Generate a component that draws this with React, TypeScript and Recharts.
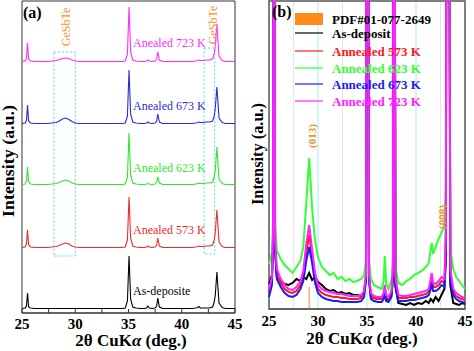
import React from 'react';
import { LineChart, Line, XAxis, YAxis, ReferenceArea, ReferenceLine, CartesianGrid } from 'recharts';

// 2θ sampling positions (deg.)
const twoTheta = [
  25, 25.3, 25.42, 25.52, 25.62, 25.8, 26.2, 26.6, 27, 27.4,
  27.8, 28.2, 28.5, 28.8, 29.1, 29.4, 29.7, 30, 30.4, 30.8,
  31.2, 31.6, 32, 32.4, 32.8, 33.2, 33.6, 34, 34.4, 34.7,
  34.9, 35.05, 35.2, 35.4, 35.7, 36.1, 36.5, 36.7, 36.82, 36.95,
  37.2, 37.5, 37.65, 37.75, 37.9, 38.2, 38.6, 39, 39.4, 39.8,
  40.2, 40.6, 41, 41.3, 41.5, 41.6, 41.75, 42, 42.3, 42.6,
  42.9, 43.05, 43.15, 43.3, 43.5, 43.8, 44.1, 44.4, 44.7, 45,
];

// Panel (a): relative intensities (a.u.) of each pattern
const aAsDeposit = [
  0.5, 1, 3, 16, 2, 1, 0.5, 0.5, 0.5, 0.5,
  0.5, 0.5, 0.5, 0.5, 0.5, 0.5, 0.5, 0.5, 0.5, 0.5,
  0.5, 0.5, 0.5, 0.5, 0.5, 0.5, 0.5, 0.5, 0.5, 1,
  8, 53, 10, 2, 1, 0.5, 0.5, 1, 3, 1,
  0.5, 1, 3, 11, 2, 0.5, 0.5, 0.5, 0.5, 0.5,
  0.5, 0.5, 0.5, 1, 1.5, 2.5, 1, 1, 1, 1,
  2, 7, 14, 37, 6, 1.5, 0.5, 0.5, 0.5, 0.5,
];
const a573 = [
  0.5, 1, 4, 18, 3, 1, 0.5, 0.5, 0.5, 0.5,
  1, 1.5, 2.5, 4, 5, 4, 2, 1, 0.5, 0.5,
  0.5, 0.5, 0.5, 0.5, 0.5, 0.5, 0.5, 0.5, 0.5, 1,
  8, 51, 10, 2, 1, 0.5, 0.5, 1, 2, 1,
  0.5, 1, 3, 10, 2, 0.5, 0.5, 0.5, 0.5, 0.5,
  0.5, 0.5, 0.5, 1, 1.5, 2, 1.5, 1.5, 2, 2,
  3, 8, 16, 38, 6, 1.5, 0.5, 0.5, 0.5, 0.5,
];
const a623 = [
  0.5, 1, 4, 18, 3, 1, 0.5, 0.5, 0.5, 0.5,
  1, 1.5, 2.5, 4, 5, 4, 2, 1, 0.5, 0.5,
  0.5, 0.5, 0.5, 0.5, 0.5, 0.5, 0.5, 0.5, 0.5, 1,
  8, 52, 10, 2, 1, 0.5, 0.5, 1, 1.5, 1,
  0.5, 1, 3, 8, 2, 0.5, 0.5, 0.5, 0.5, 0.5,
  0.5, 0.5, 0.5, 1, 1.5, 1.5, 1.5, 1.5, 2, 2,
  3, 8, 15, 38, 6, 1.5, 0.5, 0.5, 0.5, 0.5,
];
const a673 = [
  0.5, 1, 4, 19, 3, 1, 0.5, 0.5, 0.5, 0.5,
  1, 1.5, 3, 5, 6, 4.5, 2.5, 1, 0.5, 0.5,
  0.5, 0.5, 0.5, 0.5, 0.5, 0.5, 0.5, 0.5, 0.5, 1,
  8, 54, 10, 2, 1, 0.5, 0.5, 1, 2, 1,
  0.5, 1, 3, 10, 2, 0.5, 0.5, 0.5, 0.5, 0.5,
  0.5, 0.5, 0.5, 1, 1.5, 2, 1.5, 1.5, 2, 2,
  3, 8, 16, 37, 6, 1.5, 0.5, 0.5, 0.5, 0.5,
];
const a723 = [
  0.5, 1, 4, 19, 3, 1, 0.5, 0.5, 0.5, 0.5,
  1, 1.5, 2.5, 3.5, 4, 3.5, 2, 1, 0.5, 0.5,
  0.5, 0.5, 0.5, 0.5, 0.5, 0.5, 0.5, 0.5, 0.5, 1,
  8, 55, 10, 2, 1, 0.5, 0.5, 1, 2, 1,
  0.5, 1, 3, 10, 2, 0.5, 0.5, 0.5, 0.5, 0.5,
  0.5, 0.5, 0.5, 1, 1.5, 2, 1.5, 1.5, 2, 2,
  3, 8, 17, 38, 6, 1.5, 0.5, 0.5, 0.5, 0.5,
];
// vertical stacking offsets of panel (a) patterns (a.u.)
const aOffsets = [4, 65, 128, 189, 251];

// Panel (b): zoomed intensities (a.u.), large peaks run off scale
const bAsDeposit = [
  25, 34, 70, 900, 60, 32, 28, 25, 24, 26,
  30, 28, 32, 30, 36, 29, 32, 27, 24, 20,
  18, 19, 16, 17, 15, 16, 14, 14, 13, 16,
  30, 900, 30, 12, 11, 10, 11, 14, 20, 10,
  9, 14, 30, 900, 22, 6, 5, 4, 6, 4,
  6, 5, 8, 6, 10, 9, 7, 12, 8, 14,
  20, 50, 900, 900, 24, 6, 5, 4, 6, 5,
];
const b573 = [
  16, 28, 75, 900, 65, 34, 26, 20, 17, 16,
  18, 24, 33, 56, 74, 53, 31, 20, 16, 14,
  13, 12, 12, 11, 11, 10, 10, 10, 11, 17,
  34, 900, 34, 13, 11, 10, 10, 13, 20, 11,
  10, 17, 38, 900, 30, 11, 11, 11, 12, 12,
  13, 14, 15, 17, 25, 31, 22, 22, 24, 28,
  26, 70, 900, 900, 36, 17, 13, 11, 10, 9,
];
const b623 = [
  45, 56, 95, 900, 85, 58, 50, 44, 40, 36,
  42, 48, 62, 105, 151, 100, 68, 52, 42, 38,
  34, 36, 30, 32, 28, 30, 27, 28, 30, 34,
  50, 900, 50, 30, 24, 22, 20, 28, 53, 26,
  20, 30, 50, 900, 42, 26, 24, 28, 30, 34,
  36, 38, 42, 46, 60, 66, 55, 62, 70, 76,
  85, 120, 900, 900, 60, 40, 32, 28, 24, 20,
];
const b673 = [
  12, 24, 70, 900, 60, 30, 22, 16, 13, 12,
  14, 20, 28, 48, 62, 46, 26, 16, 12, 10,
  9, 8, 8, 7, 7, 7, 7, 7, 8, 12,
  30, 900, 30, 10, 8, 7, 7, 10, 16, 8,
  7, 12, 34, 900, 24, 8, 8, 8, 9, 9,
  10, 11, 12, 14, 20, 26, 18, 18, 20, 24,
  22, 60, 900, 900, 30, 14, 10, 8, 7, 6,
];
const b723 = [
  20, 32, 80, 900, 70, 40, 30, 24, 20, 19,
  22, 28, 38, 65, 84, 60, 36, 24, 20, 18,
  17, 16, 15, 15, 14, 13, 13, 13, 14, 18,
  36, 900, 36, 16, 13, 12, 12, 16, 24, 14,
  12, 18, 40, 900, 32, 14, 13, 13, 14, 15,
  16, 17, 18, 20, 30, 36, 26, 25, 28, 32,
  30, 75, 900, 900, 40, 20, 16, 14, 12, 11,
];

// PDF#01-077-2649 reference peak
const pdfPeaks = [{ x: 29.1, h: 22 }];

const seriesKeys = ['asdep', 's573', 's623', 's673', 's723'];
const seriesNamesA = ['As-deposite', 'Anealed 573 K', 'Anealed 623 K', 'Anealed 673 K', 'Anealed 723 K'];
const seriesNamesB = ['As-deposit', 'Annealed 573 K', 'Annealed 623 K', 'Annealed 673 K', 'Annealed 723 K'];
const colorsA = ['#000000', '#ee2a2a', '#2ee82e', '#2a2ad8', '#ff2cff'];
const colorsB = ['#000000', '#ff1a1a', '#33ff33', '#1a1aff', '#ff22ff'];

const ticksA = [25, 27.5, 30, 32.5, 35, 37.5, 40, 42.5, 45];
const ticksB = [25, 30, 35, 40, 45];
const cyanGrid = [30, 35, 40];
const greyGrid = [27.5, 32.5, 37.5, 42.5];

const seriesA = [aAsDeposit, a573, a623, a673, a723];
const seriesB = [bAsDeposit, b573, b623, b673, b723];

const dataA = twoTheta.map((x, i) => {
  const row: Record<string, number> = { x };
  seriesKeys.forEach((k, s) => { row[k] = seriesA[s][i] + aOffsets[s]; });
  return row;
});
const dataB = twoTheta.map((x, i) => {
  const row: Record<string, number> = { x };
  seriesKeys.forEach((k, s) => { row[k] = seriesB[s][i]; });
  return row;
});

const FONT = '"Liberation Serif", "Times New Roman", serif';
const tickStyle = { fontFamily: FONT, fontSize: 15, fontWeight: 'bold', fill: '#000' };

const labelYA = [295, 234, 172, 110, 47];
const legendY = [38, 56, 73, 89, 106];

export default function App() {
  return (
    <div style={{ position: 'absolute', left: 0, top: 0, width: 474, height: 351, background: '#fff', overflow: 'hidden' }}>
      <div style={{ position: 'absolute', left: 0, top: 0 }}>
        <LineChart width={250} height={351} data={dataA} margin={{ top: 1, right: 15, left: 22, bottom: 8 }}>
          <XAxis
            dataKey="x" type="number" domain={[25, 45]} ticks={ticksA} interval={0}
            tickFormatter={(v: number) => (v % 5 === 0 ? String(v) : '')}
            tick={tickStyle} tickSize={-4} tickMargin={9} height={30}
            axisLine={{ stroke: '#333' }} tickLine={{ stroke: '#333' }}
          />
          <YAxis hide type="number" domain={[0, 312]} />
          <ReferenceArea x1={28} x2={30} y1={57} y2={261} fill="none" stroke="#4fd6ea" strokeDasharray="2 2" strokeWidth={1} />
          <ReferenceArea x1={42.1} x2={43.1} y1={59} y2={265} fill="none" stroke="#4fd6ea" strokeDasharray="2 2" strokeWidth={1} />
          {seriesKeys.map((k, s) => (
            <Line key={k} dataKey={k} name={seriesNamesA[s]} stroke={colorsA[s]} strokeWidth={1.1} dot={false} isAnimationActive={false} type="linear" />
          ))}
          <ReferenceArea x1={25} x2={45} y1={0} y2={312} fill="none" stroke="#333" strokeWidth={1} />
        </LineChart>
      </div>
      <div style={{ position: 'absolute', left: 240, top: 0 }}>
        <LineChart width={234} height={351} data={dataB} margin={{ top: 1, right: 9, left: 29, bottom: 12 }}>
          <CartesianGrid horizontal={false} verticalValues={greyGrid} stroke="#e6e6e6" />
          <CartesianGrid horizontal={false} verticalValues={cyanGrid} stroke="#a4eef4" />
          <XAxis
            dataKey="x" type="number" domain={[25, 45]} ticks={ticksB} interval={0}
            tick={tickStyle} tickLine={false} tickSize={0} tickMargin={6} height={30}
            axisLine={{ stroke: '#444' }}
          />
          <YAxis hide type="number" domain={[0, 308]} allowDataOverflow />
          {pdfPeaks.map((p) => (
            <ReferenceLine key={p.x} segment={[{ x: p.x, y: 0 }, { x: p.x, y: p.h }]} stroke="#f0a050" strokeWidth={1.2} />
          ))}
          {seriesKeys.map((k, s) => (
            <Line key={k} dataKey={k} name={seriesNamesB[s]} stroke={colorsB[s]} strokeWidth={2} dot={false} isAnimationActive={false} type="linear" />
          ))}
          <ReferenceArea x1={25} x2={45} y1={0} y2={308} fill="none" stroke="#555" strokeWidth={1.5} ifOverflow="visible" />
        </LineChart>
      </div>
      <svg width={474} height={351} style={{ position: 'absolute', left: 0, top: 0, pointerEvents: 'none' }} fontFamily={FONT}>
        <text x={23} y={18} fontSize={16} fontWeight="bold">(a)</text>
        <text x={272} y={17} fontSize={16} fontWeight="bold">(b)</text>
        <text transform="translate(14,161) rotate(-90)" textAnchor="middle" fontSize={17} fontWeight="bold" textLength={112} lengthAdjust="spacingAndGlyphs">Intensity (a.u.)</text>
        <text transform="translate(263,154) rotate(-90)" textAnchor="middle" fontSize={16} fontWeight="bold" textLength={102} lengthAdjust="spacingAndGlyphs">Intensity (a.u.)</text>
        <text x={131} y={346} textAnchor="middle" fontSize={17} fontWeight="bold">2θ CuK<tspan fontStyle="italic">α</tspan> (deg.)</text>
        <text x={362} y={344} textAnchor="middle" fontSize={17} fontWeight="bold">2θ CuK<tspan fontStyle="italic">α</tspan> (deg.)</text>
        {seriesNamesA.map((n, s) => (
          <text key={n} x={133} y={labelYA[s]} fontSize={12} fill={colorsA[s]}>{n}</text>
        ))}
        <text transform="translate(70,27) rotate(-90)" textAnchor="middle" fontSize={12} fill="#ef9430">GeSbTe</text>
        <text transform="translate(217,25) rotate(-90)" textAnchor="middle" fontSize={12} fill="#ef9430">GeSbTe</text>
        <text transform="translate(316,136) rotate(-90)" textAnchor="middle" fontSize={11} fontWeight="bold" fill="#ef9430">(013)</text>
        <text transform="translate(446,217) rotate(-90)" textAnchor="middle" fontSize={11} fontWeight="bold" fill="#ef9430">(008)</text>
        <rect x={295} y={13} width={28} height={12} fill="#ff8c1a" />
        <text x={332} y={24} fontSize={13} fontWeight="bold" fill="#000">PDF#01-077-2649</text>
        {seriesNamesB.map((n, s) => (
          <g key={n}>
            <line x1={295} x2={323} y1={legendY[s] - 5} y2={legendY[s] - 5} stroke={colorsB[s]} strokeWidth={1.2} />
            <text x={332} y={legendY[s]} fontSize={13} fontWeight="bold" fill={colorsB[s]}>{n}</text>
          </g>
        ))}
      </svg>
    </div>
  );
}
